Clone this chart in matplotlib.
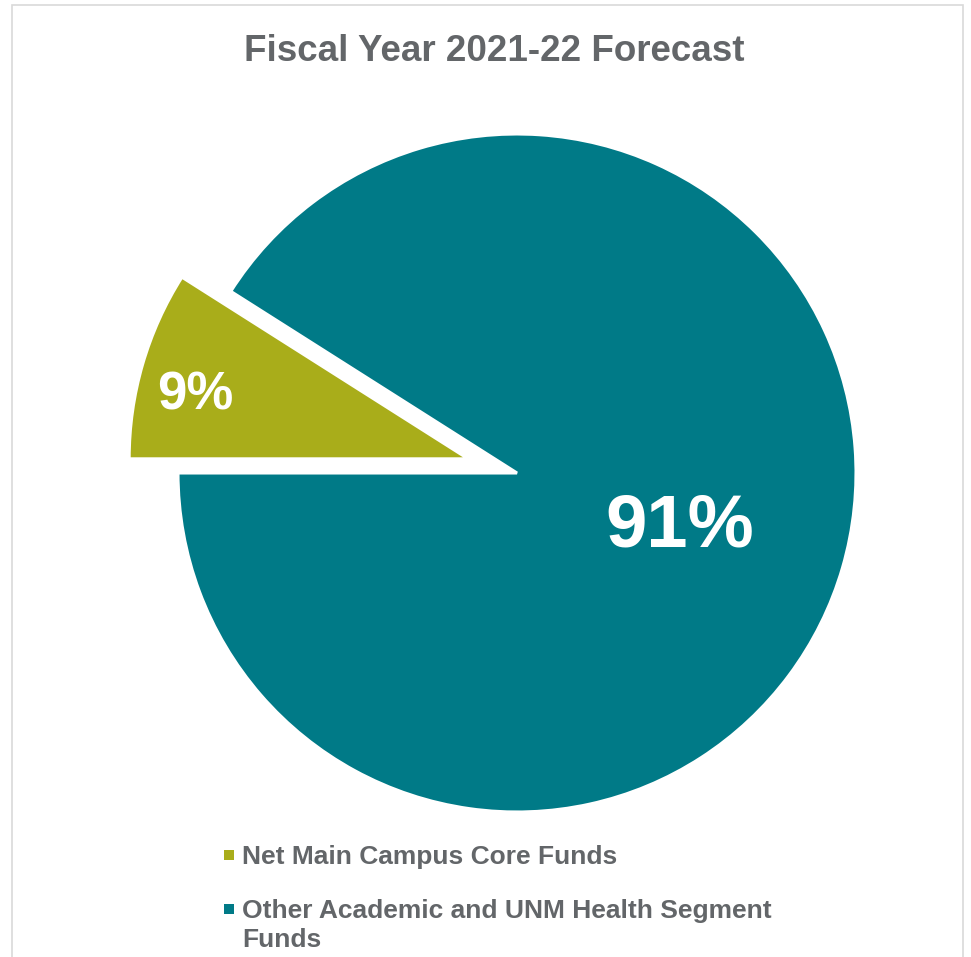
import numpy as np
import matplotlib
matplotlib.use("Agg")
import matplotlib.pyplot as plt
from matplotlib.patches import Rectangle

plt.rcParams['font.family'] = ['Liberation Sans', 'DejaVu Sans']

# Data
title = "Fiscal Year 2021-22 Forecast"
categories = ["Net Main Campus Core Funds",
              "Other Academic and UNM Health Segment\nFunds"]
shares = [9, 91]
colors = ["#A9AD1A", "#007A87"]
text_gray = "#636669"

W, H = 971, 957
fig = plt.figure(figsize=(W / 100, H / 100), dpi=100)
fig.patch.set_facecolor("white")
ax = fig.add_axes([0, 0, 1, 1])

# chart frame
ax.add_patch(Rectangle((12, -20), 951, H - 5 + 20, fill=False,
                       edgecolor="#d9d9d9", linewidth=1.2))

cx, cy, R = 517, H - 473, 339
explode_frac = [0.15, 0.0]
start = 180 - 360 * shares[0] / sum(shares)

wedges, _ = ax.pie(shares, colors=colors, startangle=start, counterclock=True,
                   center=(cx, cy), radius=R,
                   explode=[e * R for e in explode_frac],
                   wedgeprops=dict(edgecolor="white", linewidth=2.2),
                   frame=True)
ax.set_xlim(0, W)
ax.set_ylim(0, H)
ax.set_aspect("equal")
ax.axis("off")

CAP = 0.716 * 100 / 72  # cap height in px per point

# percentage labels inside wedges
label_dist = [0.83, 0.50]
label_turn = [2.2, 0.0]
label_size = [38, 53.5]
for w, v, d, t, s in zip(wedges, shares, label_dist, label_turn, label_size):
    mid = np.deg2rad((w.theta1 + w.theta2) / 2 + t)
    x0, y0 = w.center
    ax.text(x0 + d * w.r * np.cos(mid),
            y0 + d * w.r * np.sin(mid) - CAP * s / 2,
            f"{v}%", color="white", fontsize=s, fontweight="bold",
            ha="center", va="baseline")

# title
ax.text(494, H - 61, title, ha="center", va="baseline",
        fontsize=26.5, fontweight="bold", color=text_gray)

# legend
legend_y = [855, 909]
leg_fs = 19
line_step = 29
for cat, col, ly in zip(categories, colors, legend_y):
    ax.scatter([229], [H - ly], marker="s", s=44, color=col, linewidths=0)
    for i, line in enumerate(cat.split("\n")):
        ax.text(242, H - ly - CAP * leg_fs / 2 - i * line_step, line,
                ha="left", va="baseline", fontsize=leg_fs,
                fontweight="bold", color=text_gray)

fig.savefig("out.png", dpi=100)
